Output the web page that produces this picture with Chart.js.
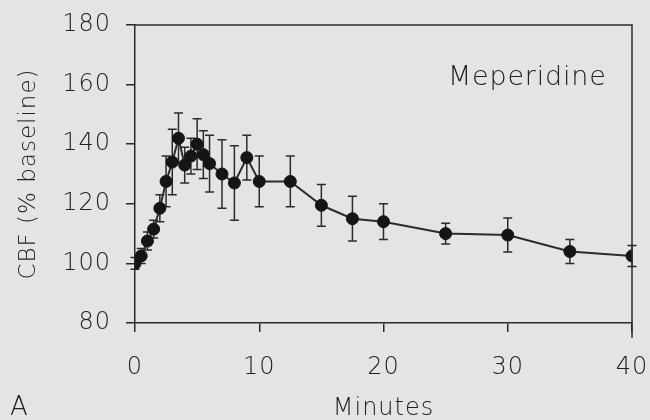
<!DOCTYPE html>
<html>
<head>
<meta charset="utf-8">
<script src="https://cdn.jsdelivr.net/npm/chart.js@4"></script>
<style>
  html, body { margin: 0; padding: 0; background: #e4e4e2; }
  #wrap { width: 650px; height: 420px; }
</style>
</head>
<body>
<div id="wrap"><canvas id="cbfChart" width="650" height="420"></canvas></div>
<script>
// values (mean and +/- error, % of baseline)
const minutes = [0, 0.5, 1, 1.5, 2, 2.5, 3, 3.5, 4, 4.5, 5, 5.5, 6, 7, 8, 9, 10, 12.5, 15, 17.5, 20, 25, 30, 35, 40];
const cbf     = [100, 102.5, 107.5, 111.5, 118.5, 127.5, 134, 142, 133, 136, 140, 136.5, 133.5, 130, 127, 135.5, 127.5, 127.5, 119.5, 115, 114, 110, 109.5, 104, 102.5];
const cbfErr  = [2, 2.5, 3, 3, 4.5, 8.5, 11, 8.5, 6, 6, 8.5, 8, 9.5, 11.5, 12.5, 7.5, 8.5, 8.5, 7, 7.5, 6, 3.5, 5.7, 4, 3.5];
const xTicks  = [0, 10, 20, 30, 40];
const yTicks  = [80, 100, 120, 140, 160, 180];

const ink = '#2b2b2b';
const textInk = '#222';
const fontFamily = '"DejaVu Sans", sans-serif';

const bgPlugin = {
    id: 'bg',
    beforeDraw(chart) {
        const ctx = chart.ctx;
        ctx.fillStyle = '#e4e4e2';
        ctx.fillRect(0, 0, chart.width, chart.height);
        ctx.letterSpacing = '1px';
    }
};

// error bars, drawn through the chart's own scales
const errorBars = {
    id: 'errorBars',
    beforeDatasetsDraw(chart) {
        const ctx = chart.ctx;
        const xs = chart.scales.x, ys = chart.scales.y;
        ctx.save();
        ctx.strokeStyle = ink;
        ctx.lineWidth = 1.5;
        minutes.forEach((m, i) => {
            const px = xs.getPixelForValue(m);
            const top = ys.getPixelForValue(cbf[i] + cbfErr[i]);
            const bot = ys.getPixelForValue(cbf[i] - cbfErr[i]);
            ctx.beginPath();
            ctx.moveTo(px, top); ctx.lineTo(px, bot);
            ctx.moveTo(px - 4.5, top); ctx.lineTo(px + 4.5, top);
            ctx.moveTo(px - 4.5, bot); ctx.lineTo(px + 4.5, bot);
            ctx.stroke();
        });
        ctx.restore();
    }
};

// top + right frame lines and the free text
const frame = {
    id: 'frame',
    afterDraw(chart) {
        const ctx = chart.ctx;
        const a = chart.chartArea;
        ctx.save();
        ctx.strokeStyle = ink;
        ctx.lineWidth = 1.5;
        ctx.beginPath();
        ctx.moveTo(a.left, a.top);
        ctx.lineTo(a.right, a.top);
        ctx.lineTo(a.right, a.bottom + 15);
        ctx.stroke();

        ctx.fillStyle = textInk;
        ctx.textBaseline = 'alphabetic';
        ctx.textAlign = 'left';
        ctx.letterSpacing = '0.8px';
        ctx.font = '300 27px ' + fontFamily;
        ctx.fillText('Meperidine', 448, 85);
        ctx.font = '300 26px ' + fontFamily;
        ctx.fillText('A', 10, 415);
        ctx.restore();
    }
};

const ctx = document.getElementById('cbfChart').getContext('2d');
window.cbfChart = new Chart(ctx, {
    type: 'line',
    data: {
        datasets: [{
            label: 'Meperidine',
            data: minutes.map((m, i) => ({ x: m, y: cbf[i] })),
            borderColor: ink,
            borderWidth: 2,
            backgroundColor: '#151515',
            pointBackgroundColor: '#151515',
            pointBorderColor: '#151515',
            pointRadius: 6,
            pointBorderWidth: 1,
            tension: 0,
            fill: false
        }]
    },
    options: {
        responsive: false,
        animation: false,
        devicePixelRatio: 1,
        layout: { padding: { top: 25, right: 18, left: 0, bottom: 0 } },
        plugins: {
            legend: { display: false },
            tooltip: { enabled: false }
        },
        scales: {
            x: {
                type: 'linear',
                min: xTicks[0],
                max: xTicks[xTicks.length - 1],
                afterBuildTicks: s => { s.ticks = xTicks.map(v => ({ value: v })); },
                afterFit: s => { s.height = 97; s.paddingLeft = 0; s.paddingRight = 0; },
                grid: { display: true, drawOnChartArea: false, drawTicks: true, tickLength: 9, color: ink, lineWidth: 1.5 },
                border: { display: true, color: ink, width: 1.5 },
                ticks: { color: textInk, padding: 21, font: { family: fontFamily, size: 24, weight: '300' } },
                title: {
                    display: true,
                    text: 'Minutes',
                    color: textInk,
                    font: { family: fontFamily, size: 24, weight: '300' },
                    padding: { top: 0, bottom: -3 }
                }
            },
            y: {
                min: yTicks[0],
                max: yTicks[yTicks.length - 1],
                afterBuildTicks: s => { s.ticks = yTicks.map(v => ({ value: v })); },
                afterFit: s => { s.width = 135; s.paddingTop = 0; s.paddingBottom = 0; },
                grid: { display: true, drawOnChartArea: false, drawTicks: true, tickLength: 9, color: ink, lineWidth: 1.5 },
                border: { display: true, color: ink, width: 1.5 },
                ticks: { color: textInk, padding: 15, font: { family: fontFamily, size: 24, weight: '300' } },
                title: {
                    display: true,
                    text: 'CBF (% baseline)',
                    color: textInk,
                    font: { family: fontFamily, size: 23, weight: '300' },
                    padding: { top: 15, bottom: 0 }
                }
            }
        }
    },
    plugins: [bgPlugin, errorBars, frame]
});
</script>
</body>
</html>
